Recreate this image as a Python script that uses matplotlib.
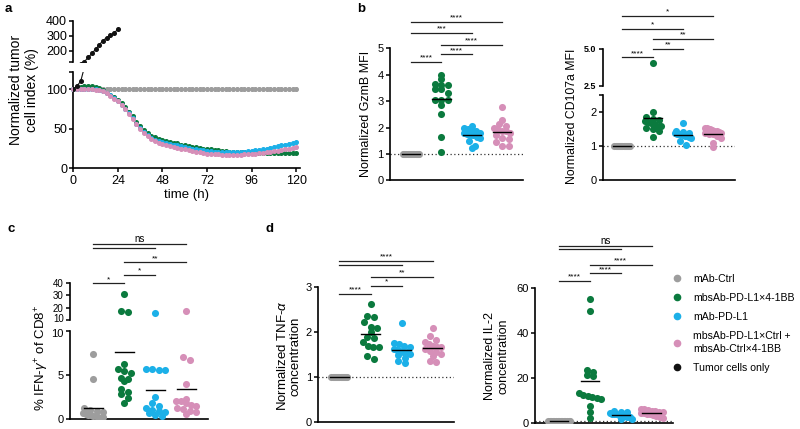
import numpy as np
import matplotlib
matplotlib.use("Agg")
import matplotlib.pyplot as plt
import matplotlib.transforms as mtransforms
from matplotlib.lines import Line2D

plt.rcParams['font.family'] = ['Liberation Sans', 'DejaVu Sans']
plt.rcParams['mathtext.fontset'] = 'custom'
plt.rcParams['mathtext.rm'] = 'Liberation Sans'
plt.rcParams['mathtext.it'] = 'Liberation Sans:italic'

W, H = 800, 429

# groups / colours (same order everywhere)
GROUP_LABELS = ["mAb-Ctrl", "mbsAb-PD-L1\u00d74-1BB", "mAb-PD-L1",
                "mbsAb-PD-L1\u00d7Ctrl +\nmbsAb-Ctrl\u00d74-1BB", "Tumor cells only"]
COLORS = ["#9d9d9d", "#0b7a3e", "#1cb0e8", "#d68fb8", "#111111"]

# ---- panel a: killing curves, one value every 2 h ----
time_h = np.arange(0, 121, 2)
ctrl_curve = [100, 100.3, 100, 99.8, 100.2, 100, 99.7, 100, 100.3, 100, 99.8, 100, 100.2, 100, 99.7,
              100, 100.2, 100, 99.8, 100, 100.3, 100, 99.8, 100, 100.2, 100, 99.7, 100, 100.2, 100,
              99.8, 100, 100.3, 100, 99.7, 100, 100.2, 100, 99.8, 100, 100.2, 100, 99.7, 100, 100.2,
              100, 99.8, 100, 100.3, 100, 99.8, 100, 100.2, 100, 99.7, 100, 100.2, 100, 99.8, 100, 100]
bsab_curve = [100, 101, 102.5, 103.5, 104, 103.5, 102.5, 101, 98.5, 95.5, 92.5, 89.5, 86, 82, 77,
              71.5, 65.5, 59, 53, 48, 44, 41, 39, 37.5, 36, 34.5, 33.5, 32.5, 31.5, 30,
              29, 28.5, 27.5, 26.5, 26, 25, 24.5, 24, 23.5, 22.5, 22, 21.5, 21, 20.5, 20.5,
              20, 20, 19.5, 19.5, 19.5, 19, 19, 19, 19, 19, 19, 19, 19, 19, 19, 19]
pdl1_curve = [100, 100, 100, 100, 100, 100.5, 100, 99, 97.5, 95, 92, 88.5, 85, 80.5, 75.5,
              69.5, 63, 56.5, 50.5, 45.5, 41.5, 38.5, 36, 34.5, 33, 32, 31, 30, 29, 28,
              27, 26, 25, 24, 23.5, 22.5, 22, 21.5, 21, 20.5, 20, 20, 20, 20, 20.5,
              20.5, 21, 21.5, 22, 22.5, 23.5, 24, 25, 26, 27, 28, 29, 30, 31, 32, 33]
combo_curve = [100, 100, 100, 100, 100, 100, 99.5, 98.5, 97, 94.5, 91.5, 88, 84.5, 80, 74.5,
               68.5, 62, 55.5, 49.5, 44.5, 40.5, 37, 34.5, 32.5, 31, 29.5, 28.5, 27, 26, 25,
               24, 23, 22, 21, 20, 19, 18.5, 18, 17.5, 17.5, 17, 17, 17, 17, 17,
               17, 17.5, 17.5, 18, 18.5, 19, 19.5, 20, 20.5, 21.5, 22, 23, 24, 25, 25.5, 26.5]
curve_err = [2.5, 1.2, 1.8, 1.5]
tumor_t = [0, 2, 4, 6, 8, 10, 12, 14, 16, 18, 20, 22, 24]
tumor_only = [100, 104, 110, 128, 155, 182, 210, 240, 268, 288, 303, 320, 342]

# ---- panel b ----
gzmb = [
    [1.0] * 15,
    [4.0, 3.85, 3.65, 3.6, 3.6, 3.45, 3.45, 3.3, 3.05, 3.05, 3.05, 2.85, 2.52, 1.65, 1.06],
    [2.05, 2.0, 1.95, 1.9, 1.85, 1.8, 1.78, 1.75, 1.72, 1.7, 1.65, 1.6, 1.5, 1.3, 1.22],
    [2.78, 2.3, 2.15, 2.05, 2.0, 1.9, 1.85, 1.85, 1.8, 1.7, 1.6, 1.55, 1.45, 1.3, 1.3],
]
cd107a = [
    [1.0] * 15,
    [4.07, 2.0, 1.85, 1.8, 1.78, 1.75, 1.72, 1.7, 1.65, 1.6, 1.6, 1.55, 1.5, 1.45, 1.28],
    [1.68, 1.45, 1.42, 1.4, 1.38, 1.36, 1.35, 1.35, 1.33, 1.3, 1.3, 1.28, 1.25, 1.15, 1.05],
    [1.55, 1.55, 1.5, 1.48, 1.45, 1.45, 1.42, 1.4, 1.38, 1.36, 1.35, 1.3, 1.25, 1.1, 0.98],
]
# ---- panel c ----
ifng = [
    [7.4, 4.6, 1.3, 1.0, 0.9, 0.8, 0.7, 0.6, 0.5, 0.4, 0.3, 0.3, 0.2, 0.1, 0.2],
    [30.7, 17.5, 16.2, 6.3, 5.7, 5.4, 5.2, 4.7, 4.5, 4.35, 3.4, 3.1, 2.8, 2.4, 1.8],
    [15.4, 5.7, 5.7, 5.6, 5.6, 2.5, 1.85, 1.5, 1.2, 1.0, 0.9, 0.8, 0.7, 0.5, 0.3],
    [17.5, 7.0, 6.7, 4.0, 2.3, 2.1, 2.0, 1.8, 1.6, 1.5, 1.3, 1.1, 0.9, 0.8, 0.6],
]
# ---- panel d ----
tnfa = [
    [1.0] * 15,
    [2.61, 2.36, 2.33, 2.22, 2.11, 2.09, 2.0, 1.88, 1.87, 1.78, 1.68, 1.67, 1.65, 1.47, 1.4],
    [2.2, 1.75, 1.72, 1.68, 1.65, 1.62, 1.6, 1.58, 1.56, 1.54, 1.5, 1.48, 1.42, 1.35, 1.3],
    [2.09, 1.9, 1.82, 1.78, 1.72, 1.68, 1.66, 1.65, 1.62, 1.58, 1.55, 1.5, 1.45, 1.35, 1.33],
]
il2 = [
    [1.0] * 15,
    [55.2, 49.9, 23.7, 22.5, 21.4, 20.8, 13.2, 12.5, 12.0, 11.5, 11.0, 10.6, 7.5, 4.9, 2.4],
    [5.4, 5.0, 4.7, 4.4, 4.2, 4.0, 3.8, 3.6, 3.4, 3.2, 3.0, 2.8, 2.5, 2.0, 1.6],
    [6.4, 6.2, 5.8, 5.5, 5.2, 5.0, 4.8, 4.5, 4.3, 4.0, 3.8, 3.5, 3.2, 2.8, 2.2],
]

# significance brackets: (group from, group to, height in data units, label)
sig_gzmb = [(0, 3, 6.0, "****"), (0, 2, 5.57, "***"), (1, 3, 5.12, "****"),
            (1, 2, 4.77, "****"), (0, 1, 4.47, "****")]
sig_cd107a = [(0, 3, 7.27, "*"), (0, 2, 6.36, "*"), (1, 3, 5.68, "**"),
              (1, 2, 4.98, "**"), (0, 1, 4.43, "****")]
sig_ifng = [(0, 3, 71.1, "ns"), (0, 2, 67.7, ""), (1, 3, 56.4, "**"),
            (1, 2, 46.0, "*"), (0, 1, 39.5, "*")]
sig_tnfa = [(0, 3, 3.57, "****"), (0, 2, 3.48, ""), (1, 3, 3.22, "**"),
            (1, 2, 3.01, "*"), (0, 1, 2.84, "****")]
sig_il2 = [(0, 3, 78.8, "ns"), (0, 2, 77.3, ""), (1, 3, 70.5, "****"),
           (1, 2, 66.6, "****"), (0, 1, 63.3, "****")]

fig = plt.figure(figsize=(W / 100, H / 100), dpi=100)


def add_ax(x0, y0, x1, y1):
    # pixel box (top-left origin) -> figure axes
    return fig.add_axes([x0 / W, 1 - y1 / H, (x1 - x0) / W, (y1 - y0) / H])


def style(ax, fs=8, bottom=True):
    for s in ("top", "right"):
        ax.spines[s].set_visible(False)
    ax.spines["left"].set_linewidth(1.2)
    ax.spines["bottom"].set_linewidth(1.2)
    if not bottom:
        ax.spines["bottom"].set_visible(False)
    ax.tick_params(width=1.1, length=3, labelsize=fs, pad=1.5)
    ax.patch.set_alpha(0)


def to_px(axes, v):
    for ax in axes:
        lo, hi = ax.get_ylim()
        if lo <= v <= hi:
            return ax.transData.transform([(0, v)])[0][1]
    return axes[-1].transData.transform([(0, v)])[0][1]


def swarm(axes, vals, diam=6.5, cap=8.0):
    # spread points sitting in the same row sideways, GraphPad style
    ypx = np.array([to_px(axes, v) for v in vals])
    rows = np.round(ypx / diam)
    offs = np.zeros(len(vals))
    for r in np.unique(rows):
        idx = np.where(rows == r)[0]
        n = len(idx)
        o = (np.arange(n) - (n - 1) / 2) * diam
        if n > 1 and np.abs(o).max() > cap:
            o = o * cap / np.abs(o).max()
        offs[idx] = o
    t = axes[0].transData
    gx = t.transform([(1, 0)])[0][0] - t.transform([(0, 0)])[0][0]
    return offs / gx


def dots(axes, data, cap=8.0, ref_line=True):
    for ax in axes:
        if ref_line and ax.get_ylim()[0] < 1 < ax.get_ylim()[1]:
            ax.axhline(1, ls=(0, (1, 2)), color="#333333", lw=0.9, zorder=1)
    for i, vals in enumerate(data):
        vals = np.asarray(vals, float)
        x = i + swarm(axes, vals, cap=cap)
        m = vals.mean()
        for ax in axes:
            lo, hi = ax.get_ylim()
            keep = (vals >= lo) & (vals <= hi)
            ax.scatter(x[keep], vals[keep], s=26, color=COLORS[i], lw=0, zorder=3)
            ax.plot([i - 0.3, i + 0.3], [m, m], color="k", lw=1.0, zorder=4)


def brackets(ax, sigs, fs=6):
    for g1, g2, y, lab in sigs:
        ax.plot([g1, g2], [y, y], color="#222222", lw=0.9, clip_on=False)
        if lab:
            f = fs + 1 if lab == "ns" else fs
            ax.annotate(lab, ((g1 + g2) / 2, y), xytext=(0, 0.3), textcoords="offset points",
                        ha="center", va="bottom", fontsize=f, annotation_clip=False)


def dot_axes(ax, xlim, ylim, ticks, labels=None, fs=8, bottom=True):
    style(ax, fs, bottom)
    ax.set_xlim(*xlim)
    ax.set_ylim(*ylim)
    ax.set_xticks([])
    ax.set_yticks(ticks)
    if labels is not None:
        ax.set_yticklabels(labels)


def nudge_label(ax, index, dy_px):
    lab = ax.get_yticklabels()[index]
    lab.set_transform(lab.get_transform() + mtransforms.Affine2D().translate(0, dy_px))


# ---------------- panel a ----------------
a_lo = add_ax(73.3, 71.7, 300, 168.3)
a_hi = add_ax(73.3, 20.7, 300, 62)
style(a_lo, 9)
style(a_hi, 9, bottom=False)
curves = [ctrl_curve, bsab_curve, pdl1_curve, combo_curve]
for k in (0, 3, 2, 1):
    a_lo.errorbar(time_h, curves[k], yerr=curve_err[k], fmt="-o", ms=2.6, lw=0.8,
                  color=COLORS[k], ecolor=COLORS[k], elinewidth=0.6, capsize=1,
                  capthick=0.6, clip_on=False, zorder=2 + k)
for ax in (a_lo, a_hi):
    ax.plot(tumor_t, tumor_only, "-o", ms=2.6, lw=0.8, color=COLORS[4], zorder=8)
a_lo.set_xlim(0, 122)
a_hi.set_xlim(0, 122)
a_lo.set_ylim(0, 122)
a_hi.set_ylim(125, 400)
a_lo.set_xticks([0, 24, 48, 72, 96, 120])
a_lo.set_yticks([0, 50, 100, 122])
a_lo.set_yticklabels(["0", "50", "100", ""])
a_hi.set_xticks([])
a_hi.set_yticks([125, 200, 300, 400])
a_hi.set_yticklabels(["", "200", "300", "400"])
a_lo.set_xlabel("time (h)", fontsize=9.5, labelpad=2)
fig.text(24 / W, 1 - 90 / H, "Normalized tumor\ncell index (%)", rotation=90,
         ha="center", va="center", fontsize=10, linespacing=1.15)

# ---------------- panel b ----------------
bl = add_ax(390, 48.3, 523, 180.3)
dot_axes(bl, (-0.69, 3.68), (0, 5), [0, 1, 2, 3, 4, 5])
dots([bl], gzmb)
brackets(bl, sig_gzmb)
fig.text(366 / W, 1 - 114 / H, "Normalized GzmB MFI", rotation=90, ha="center",
         va="center", fontsize=9)

br_lo = add_ax(602.7, 95.3, 735, 180.3)
br_hi = add_ax(602.7, 49, 735, 85.7)
dot_axes(br_lo, (-0.65, 3.72), (0, 2.5), [0, 1, 2, 2.5], ["0", "1", "2", ""])
dot_axes(br_hi, (-0.65, 3.72), (2.5, 5.0), [2.5, 5.0], ["2.5", "5.0"], fs=6.5, bottom=False)
for t in br_hi.get_yticklabels():
    t.set_fontweight("bold")
dots([br_lo, br_hi], cd107a)
brackets(br_hi, sig_cd107a)
fig.text(572 / W, 1 - 116 / H, "Normalized CD107a MFI", rotation=90, ha="center",
         va="center", fontsize=8.8)

# ---------------- panel c ----------------
c_lo = add_ax(70, 331, 208, 419)
c_hi = add_ax(70, 282.7, 208, 320)
dot_axes(c_lo, (-0.75, 3.7), (0, 10), [0, 5, 10])
dot_axes(c_hi, (-0.75, 3.7), (10, 40), [10, 20, 30, 40], fs=7, bottom=False)
nudge_label(c_hi, 0, 2)
nudge_label(c_lo, 2, -2)
dots([c_lo, c_hi], ifng, cap=10, ref_line=False)
brackets(c_hi, sig_ifng)
fig.text(42 / W, 1 - 358 / H, r"% IFN-$\it{\gamma}^{+}$ of CD8$^{+}$", rotation=90,
         ha="center", va="center", fontsize=9.5)

# ---------------- panel d ----------------
dl = add_ax(318.3, 286.7, 454, 421.7)
dot_axes(dl, (-0.68, 3.68), (0, 3), [0, 1, 2, 3])
dots([dl], tnfa)
brackets(dl, sig_tnfa)
fig.text(289 / W, 1 - 356 / H, "Normalized TNF-$\\it{\\alpha}$\nconcentration", rotation=90,
         ha="center", va="center", fontsize=9.5, linespacing=1.05)

dr = add_ax(535, 288.3, 673.3, 423)
dot_axes(dr, (-0.78, 3.7), (0, 60), [0, 20, 40, 60])
dots([dr], il2, cap=11)
brackets(dr, sig_il2)
fig.text(497 / W, 1 - 356 / H, "Normalized IL-2\nconcentration", rotation=90,
         ha="center", va="center", fontsize=9, linespacing=1.15)

# legend
handles = [Line2D([], [], marker="o", ls="", color=c, markersize=4.5) for c in COLORS]
leg = fig.legend(handles, GROUP_LABELS, loc="upper left", bbox_to_anchor=(673 / W, 1 - 274 / H),
                 frameon=False, fontsize=7.6, handlelength=0.8, handletextpad=1.1,
                 labelspacing=0.85, borderaxespad=0, borderpad=0)
leg.get_texts()[3].set_linespacing(1.35)

# panel letters
for lab, x, y in [("a", 8, 9), ("b", 361, 9), ("c", 11, 229), ("d", 270, 229)]:
    fig.text(x / W, 1 - y / H, lab, fontsize=9.5, fontweight="bold", ha="center", va="center")

fig.savefig("out.png", dpi=100)
